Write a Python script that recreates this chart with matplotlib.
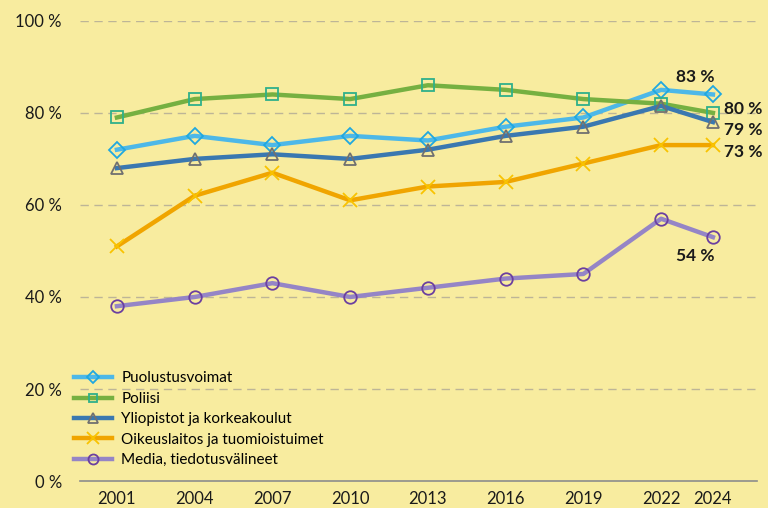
import matplotlib.pyplot as plt

plt.rcParams['font.family'] = ['Lato', 'DejaVu Sans']

years = [2001, 2004, 2007, 2010, 2013, 2016, 2019, 2022, 2024]
puolustusvoimat = [72, 75, 73, 75, 74, 77, 79, 85, 84]
poliisi = [79, 83, 84, 83, 86, 85, 83, 82, 80]
yliopistot = [68, 70, 71, 70, 72, 75, 77, 81.5, 78]
oikeuslaitos = [51, 62, 67, 61, 64, 65, 69, 73, 73]
media = [38, 40, 43, 40, 42, 44, 45, 57, 53]

y_ticks = [0, 20, 40, 60, 80, 100]
end_labels = ["83 %", "80 %", "79 %", "73 %", "54 %"]

bg = "#F8EC9F"
series = [
    ("Puolustusvoimat", puolustusvoimat, "#4DB8E8", "D", "#1FA8E0", 8),
    ("Poliisi", poliisi, "#76B041", "s", "#2FB08A", 8),
    ("Yliopistot ja korkeakoulut", yliopistot, "#3A78B0", "^", "#707070", 9),
    ("Oikeuslaitos ja tuomioistuimet", oikeuslaitos, "#F0A500", "x", "#F9C300", 10),
    ("Media, tiedotusvälineet", media, "#9585C6", "o", "#6B3FA0", 9),
]

fig = plt.figure(figsize=(7.68, 5.08), dpi=100, facecolor=bg)
ax = fig.add_axes([0.104, 0.053, 0.882, 0.906], facecolor=bg)

for name, vals, col, mk, mcol, ms in series:
    ax.plot(years, vals, color=col, lw=3.2, marker=mk, markersize=ms,
            markerfacecolor="none", markeredgecolor=mcol, markeredgewidth=1.3,
            label=name, clip_on=False, zorder=3)

ax.set_xlim(1999.57, 2025.71)
ax.set_ylim(0, 100)
ax.set_yticks(y_ticks)
ax.set_yticklabels([f"{v} %" for v in y_ticks])
ax.set_xticks(years)
ax.set_xticklabels([str(y) for y in years])
ax.tick_params(length=0, labelsize=12, colors="#1a1a1a", pad=7)
ax.tick_params(axis="y", pad=13)
for v in y_ticks[1:]:
    ax.axhline(v, color="#BDB597", lw=1, ls=(0, (6, 4)), zorder=1)
for s in ["top", "right", "left"]:
    ax.spines[s].set_visible(False)
ax.spines["bottom"].set_color("#8C8C8C")
ax.spines["bottom"].set_linewidth(1.2)

# end-of-line value labels
last = [puolustusvoimat[-1], poliisi[-1], yliopistot[-1], oikeuslaitos[-1], media[-1]]
offsets = [(-18, 17, "center"), (11, 4, "left"), (11, -8, "left"), (11, -7, "left"), (-18, -19, "center")]
for txt, v, (dx, dy, ha) in zip(end_labels, last, offsets):
    ax.annotate(txt, (years[-1], v), xytext=(dx, dy), textcoords="offset pixels",
                ha=ha, va="center", fontsize=12.5, fontweight="bold", color="#1a1a1a")

leg = ax.legend(loc="upper left", bbox_to_anchor=(-0.029, 0.268), frameon=False,
                fontsize=11, handlelength=2.5, labelspacing=0.42, handletextpad=0.6,
                markerscale=0.8)

fig.savefig("out.png", dpi=100, facecolor=bg)
